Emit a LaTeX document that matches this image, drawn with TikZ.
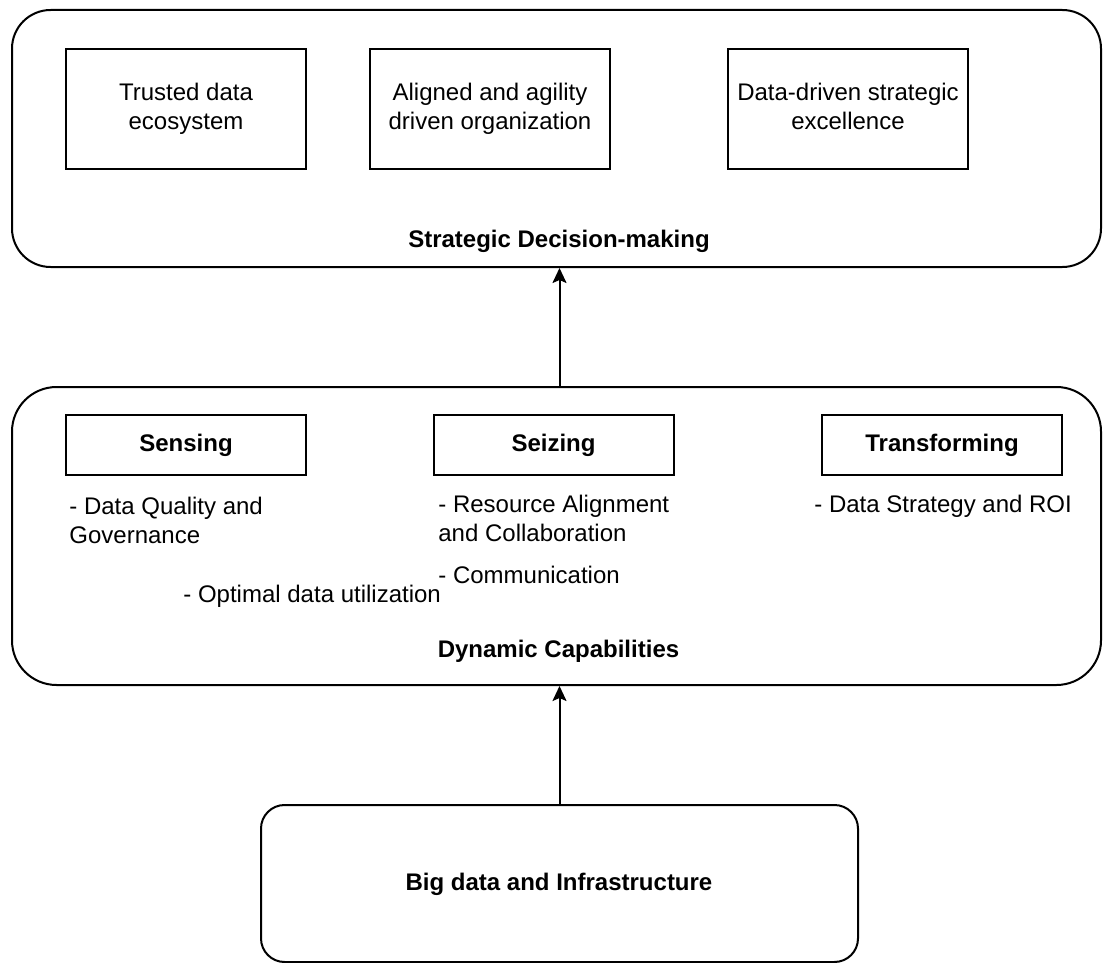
\documentclass[tikz,border=0pt]{standalone}
\usepackage{fontspec}
\setmainfont{Liberation Sans}
\usetikzlibrary{arrows.meta}

\tikzset{
  txt/.style={font=\fontsize{12}{14.4}\selectfont, inner sep=0pt},
  panel/.style={txt, draw, line width=1pt, rounded corners=#1},
  card/.style={txt, draw, line width=1pt, minimum width=120pt, align=center},
  item/.style={txt, anchor=base west, align=left},
  title/.style={txt, font=\fontsize{12}{14.4}\selectfont\bfseries, anchor=base},
  flow/.style={-{Stealth[length=7.5pt,width=7pt,inset=1.5pt]}, line width=1pt},
}

\begin{document}
\begin{tikzpicture}[x=0.5pt, y=-0.5pt]
    \useasboundingbox (0,0) rectangle (1103,963);

    % Upper panel: strategic decision-making
    \node[panel=19.3pt, minimum width=544.5pt, minimum height=128.5pt] (strategic) at (556.5,138.5) {};
    \node[card, minimum height=60pt] (trusted) at (186,109) {Trusted data\\ecosystem};
    \node[card, minimum height=60pt] (aligned) at (490,109) {Aligned and agility\\driven organization};
    \node[card, minimum height=60pt] (excellence) at (848,109) {Data-driven strategic\\excellence\vphantom{y}};
    \node[title] (strategiclbl) at (559,247) {Strategic Decision-making};

    % Middle panel: dynamic capabilities
    \node[panel=22.3pt, minimum width=544.5pt, minimum height=149pt] (dynamic) at (556.5,536) {};
    \node[card, minimum height=30pt, font=\fontsize{12}{14.4}\selectfont\bfseries] (sensing) at (186,445) {Sensing};
    \node[card, minimum height=30pt, font=\fontsize{12}{14.4}\selectfont\bfseries] (seizing) at (553.5,445) {Seizing};
    \node[card, minimum height=30pt, font=\fontsize{12}{14.4}\selectfont\bfseries] (transforming) at (942,445) {Transforming};

    % Bullet texts (base = last line)
    \node[item] (quality) at (69,543) {- Data Quality and\\Governance};
    \node[item] (resource) at (438,541) {- Resource Alignment\\and Collaboration};
    \node[item] (communication) at (438,583) {- Communication};
    \node[item] (optimal) at (183,602) {- Optimal data utilization};
    \node[item] (roi) at (814,512) {- Data Strategy and ROI};
    \node[title] (dynamiclbl) at (558.5,657) {Dynamic Capabilities};

    % Lower panel: big data
    \node[panel=11.8pt, minimum width=298.5pt, minimum height=78.5pt] (bigdata) at (559.5,883.5) {};
    \node[title] (bigdatalbl) at (559,890) {Big data and Infrastructure};

    % Arrows
    \draw[flow] (bigdata.north) -- (bigdata.north |- dynamic.south);
    \draw[flow] (bigdata.north |- dynamic.north) -- (bigdata.north |- strategic.south);
\end{tikzpicture}
\end{document}
